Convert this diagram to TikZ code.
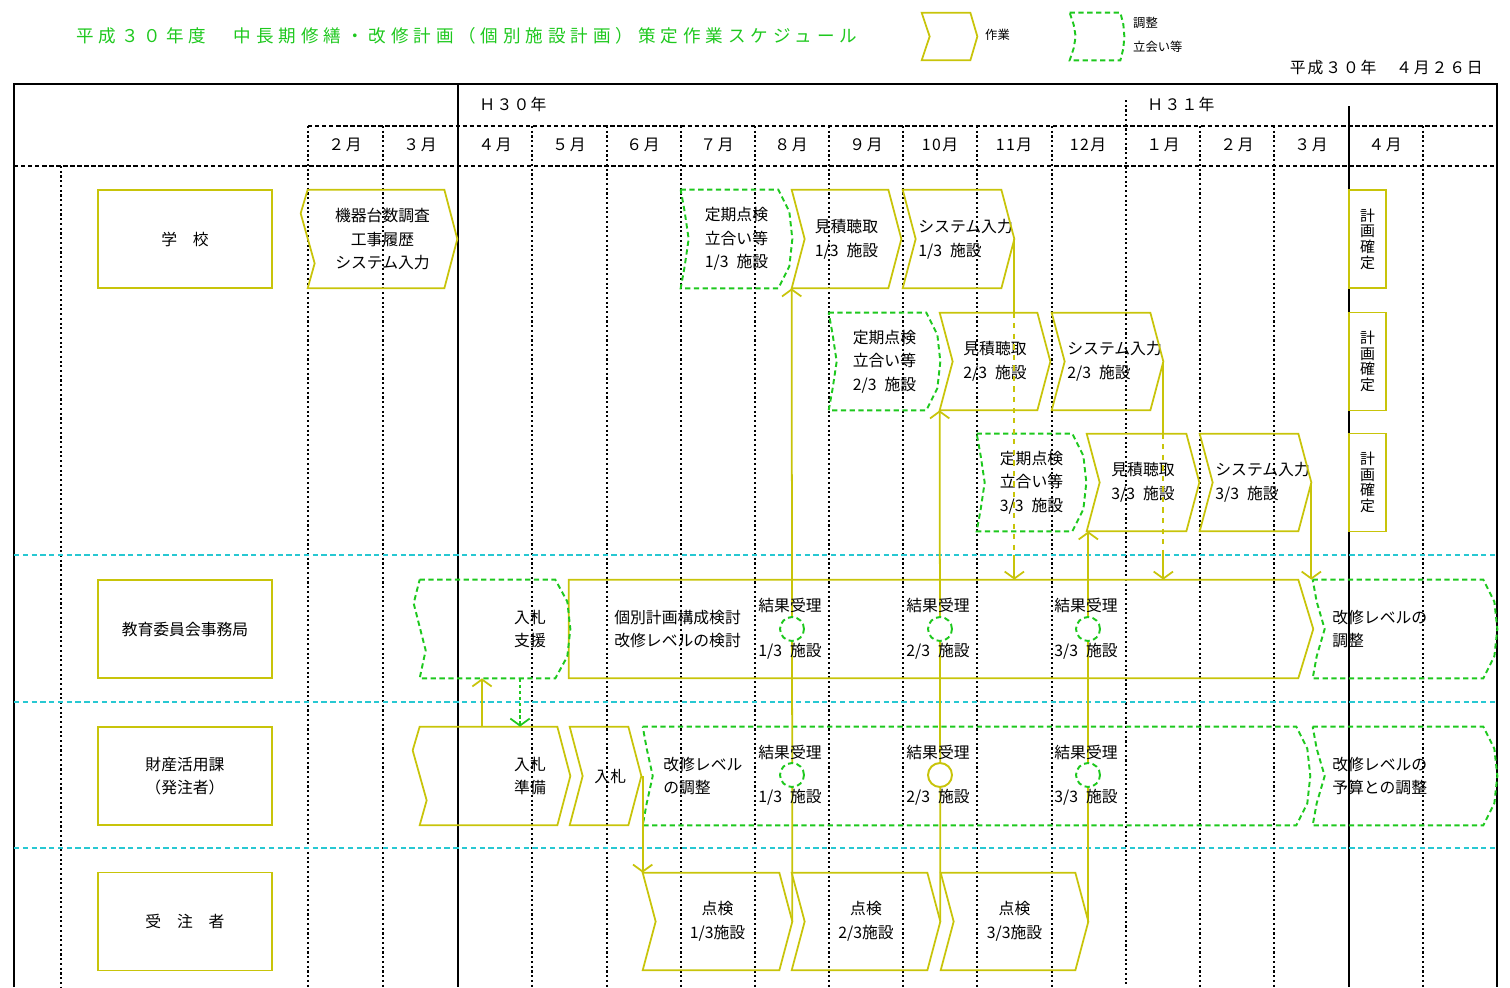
\documentclass[tikz,border=0pt]{standalone}
\usepackage{fontspec}
\setmainfont{Noto Sans CJK JP}
\usetikzlibrary{calc, arrows.meta}
\definecolor{workcolor}{RGB}{200,196,10}
\definecolor{adjcolor}{RGB}{30,200,30}
\definecolor{lanecolor}{RGB}{40,200,210}
\newcommand{\bodyfont}{\fontsize{9pt}{13.5pt}\selectfont}
\newcommand{\smallfont}{\fontsize{7pt}{8pt}\selectfont}
\newcommand{\titlefont}{\fontsize{10pt}{12pt}\selectfont\addfontfeatures{LetterSpace=28}}

\begin{document}
\begin{tikzpicture}[x=0.02cm, y=-0.02cm]
	\tikzstyle{cell}=[inner sep=0pt, align=left, font=\bodyfont]
	\tikzstyle{task}=[cell, minimum height=1.96cm]
	\tikzstyle{rowlabel}=[draw=workcolor, line width=1pt, inner sep=0pt, minimum width=3.48cm, minimum height=1.96cm, align=center, font=\bodyfont]
	\tikzstyle{workline}=[draw=workcolor, line width=1pt]
	\tikzstyle{adjline}=[draw=adjcolor, line width=1.1pt, dash pattern=on 3pt off 2pt]
	\tikzstyle{flowline}=[workcolor, line width=1pt, -{Straight Barb[length=4pt,width=11pt]}]
	\tikzstyle{gridline}=[line width=0.9pt, dash pattern=on 1.2pt off 1.5pt]
	\tikzstyle{headline}=[line width=0.7pt, dash pattern=on 2.5pt off 1.5pt]
	\tikzstyle{laneline}=[draw=lanecolor, line width=0.9pt, dash pattern=on 3pt off 2pt]
	\tikzstyle{check}=[circle, minimum size=0.48cm, inner sep=0pt, fill=white, adjline]

	\useasboundingbox (0,0) rectangle (1510,987);

	% title, legend, date
	\node[anchor=west, text=adjcolor, font=\titlefont] (title) at (70,36) {平成３０年度　中長期修繕・改修計画（個別施設計画）策定作業スケジュール};
	\node[inner sep=0pt, minimum width=1.1cm, minimum height=0.94cm] (legwork) at (949.5,36.5) {};
	\draw[workline] (legwork.north west) -- ($(legwork.north east)+(-7,0)$) -- (legwork.east) -- ($(legwork.south east)+(-7,0)$) -- (legwork.south west) -- ($(legwork.west)+(8,0)$) -- cycle;
	\node[anchor=west, font=\smallfont] (legworktext) at (979,35) {作業};
	\node[inner sep=0pt, minimum width=1.08cm, minimum height=0.94cm] (legadj) at (1097,36.5) {};
	\draw[adjline] (legadj.north west) -- ($(legadj.north east)+(-4,0)$) -- ($(legadj.north east)+(-1,12)$) -- (legadj.east) -- ($(legadj.south east)+(-1,-12)$) -- ($(legadj.south east)+(-4,0)$) -- (legadj.south west) -- ($(legadj.south west)+(4,-12)$) -- ($(legadj.west)+(6,0)$) -- ($(legadj.north west)+(4,12)$) -- cycle;
	\node[anchor=west, font=\smallfont] (legadjtext1) at (1127,23) {調整};
	\node[anchor=west, font=\smallfont] (legadjtext2) at (1127,47) {立会い等};
	\node[anchor=east, font=\bodyfont\addfontfeatures{LetterSpace=12}] (date) at (1489,68) {平成３０年　４月２６日};

	% frame and grid
	\draw[line width=1pt] (14,987) -- (14,84) -- (1497,84) -- (1497,987);
	\foreach \x in {308,383,532,607,681,755,829,903,977,1052,1200,1274,1423}{
		\draw[gridline] (\x,126) -- (\x,987);
	}
	\draw[gridline] (61,166) -- (61,987);
	\draw[gridline] (1126,100) -- (1126,987);
	\draw[line width=0.9pt] (458,84) -- (458,987);
	\draw[line width=0.9pt] (1349,106) -- (1349,987);
	\draw[headline] (308,126) -- (1497,126);
	\draw[headline] (14,166) -- (1497,166);
	\foreach \y in {555,702,848}{
		\draw[laneline] (14,\y) -- (1497,\y);
	}
	\coordinate (lane1) at (14,555);

	% header
	\node[font=\bodyfont\addfontfeatures{LetterSpace=8}] (h30) at (513,104) {Ｈ３０年};
	\node[font=\bodyfont\addfontfeatures{LetterSpace=8}] (h31) at (1181,104) {Ｈ３１年};
	\foreach \x/\m in {345/２月, 420/３月, 495/４月, 569/５月, 643/６月, 717/７月, 791/８月, 866/９月, 940/10月, 1014/11月, 1088/12月, 1163/１月, 1237/２月, 1311/３月, 1385/４月}{
		\node[font=\bodyfont\addfontfeatures{LetterSpace=10}] (m\x) at (\x,145) {\m};
	}

	% row labels
	\node[rowlabel] (gakko) at (185,239) {学　校};
	\node[rowlabel] (kyoiku) at (185,629) {教育委員会事務局};
	\node[rowlabel] (zaisan) at (185,776) {財産活用課\\（発注者）};
	\node[rowlabel] (jucyu) at (185,921.5) {受　注　者};

	% school
	\node[task, minimum width=2.98cm, align=center] (chk0) at (382.5,239) {機器台数調査\\工事履歴\\システム入力};
	\node[task, minimum width=2.22cm] (tei1) at (736.5,239) {定期点検\\立合い等\\1/3\enspace 施設};
	\node[task, minimum width=2.18cm] (mit1) at (846.5,239) {見積聴取\\1/3\enspace 施設};
	\node[task, minimum width=2.22cm] (sys1) at (958.5,239) {\hspace*{0.9em}システム入力\\\hspace*{0.9em}1/3\enspace 施設};
	\node[task, minimum width=2.22cm, minimum height=1.94cm] (tei2) at (884.5,361.5) {定期点検\\立合い等\\2/3\enspace 施設};
	\node[task, minimum width=2.20cm, minimum height=1.94cm] (mit2) at (995,361.5) {見積聴取\\2/3\enspace 施設};
	\node[task, minimum width=2.22cm, minimum height=1.94cm] (sys2) at (1107.5,361.5) {\hspace*{0.9em}システム入力\\\hspace*{0.9em}2/3\enspace 施設};
	\node[task, minimum width=2.18cm, minimum height=1.94cm] (tei3) at (1031.5,482.5) {定期点検\\立合い等\\3/3\enspace 施設};
	\node[task, minimum width=2.24cm, minimum height=1.94cm] (mit3) at (1143,482.5) {見積聴取\\3/3\enspace 施設};
	\node[task, minimum width=2.22cm, minimum height=1.94cm] (sys3) at (1255.5,482.5) {\hspace*{0.9em}システム入力\\\hspace*{0.9em}3/3\enspace 施設};
	\foreach \n/\y in {kak1/239, kak2/361.5, kak3/482.5}{
		\node[workline, inner sep=0pt, minimum width=0.74cm, minimum height=1.96cm, align=center, font=\fontsize{8.5pt}{8.9pt}\selectfont] (\n) at (1367.5,\y) {計\\画\\確\\定};
	}

	% board of education
	\node[task, minimum width=3.00cm] (shien) at (495,629) {};
	\node[cell, align=center] (shientext) at (530,629) {入札\\支援};
	\node[task, minimum width=14.88cm] (kento) at (941,629) {};
	\node[cell, anchor=west] (kentotext) at (614,629) {個別計画構成検討\\改修レベルの検討};
	\node[task, minimum width=3.68cm] (chosei) at (1405,629) {};
	\node[cell, anchor=west] (choseitext) at (1332,629) {改修レベルの\\調整};

	% asset division
	\node[task, minimum width=3.00cm] (junbi) at (495,776) {};
	\node[cell, align=center] (junbitext) at (530,776) {入札\\準備};
	\node[task, minimum width=1.42cm] (nyu) at (605.5,776) {\hspace*{0.6em}入札};
	\node[task, minimum width=13.34cm] (kaisyu) at (976.5,776) {};
	\node[cell, anchor=west] (kaisyutext) at (663,776) {改修レベル\\の調整};
	\node[task, minimum width=3.68cm] (yosan) at (1405,776) {};
	\node[cell, anchor=west] (yosantext) at (1332,776) {改修レベルの\\予算との調整};

	% contractor
	\node[task, minimum width=2.98cm, minimum height=1.94cm, align=center] (ten1) at (717.5,921.5) {点検\\1/3施設};
	\node[task, minimum width=2.96cm, minimum height=1.94cm, align=center] (ten2) at (866,921.5) {点検\\2/3施設};
	\node[task, minimum width=2.94cm, minimum height=1.94cm, align=center] (ten3) at (1014.5,921.5) {点検\\3/3施設};

	% outlines
	\foreach \n in {mit1,sys1,mit2,sys2,mit3,sys3,nyu,ten1,ten2,ten3}{
		\draw[workline] (\n.north west) -- ($(\n.north east)+(-13,0)$) -- (\n.east) -- ($(\n.south east)+(-13,0)$) -- (\n.south west) -- ($(\n.west)+(13,0)$) -- cycle;
	}
	\foreach \n in {chk0,junbi}{
		\draw[workline] (\n.north west) -- ($(\n.north east)+(-13,0)$) -- (\n.east) -- ($(\n.south east)+(-13,0)$) -- (\n.south west) -- ++(7,-25) -- ++(-14,-50) -- cycle;
	}
	\draw[workline] (kento.north west) -- ($(kento.north east)+(-15,0)$) -- (kento.east) -- ($(kento.south east)+(-15,0)$) -- (kento.south west) -- cycle;
	\foreach \n/\d in {tei1/8, tei2/8, tei3/8, kaisyu/10, chosei/12, yosan/12}{
		\draw[adjline] (\n.north west) -- ($(\n.north east)+(-14,0)$) -- ($(\n.north east)+(-3,22)$) -- (\n.east) -- ($(\n.south east)+(-3,-22)$) -- ($(\n.south east)+(-14,0)$) -- (\n.south west) -- ($(\n.south west)+(4,-22)$) -- ($(\n.west)+(\d,0)$) -- ($(\n.north west)+(4,22)$) -- cycle;
	}
	\draw[adjline] (shien.north west) -- ($(shien.north east)+(-15,0)$) -- ($(shien.north east)+(-3,22)$) -- (shien.east) -- ($(shien.south east)+(-3,-22)$) -- ($(shien.south east)+(-15,0)$) -- (shien.south west) -- ++(6,-28) -- ++(-12,-47) -- cycle;

	% connectors
	\draw[flowline] (ten1.east) -- (mit1.south west);
	\draw[flowline] (ten2.east) -- (mit2.south west);
	\draw[flowline] (ten3.east) -- (ten3.east |- mit3.south);
	\draw[workline] (sys1.east) -- (sys1.east |- mit2.north);
	\draw[workline, dashed] (sys1.east |- mit2.north) -- (sys1.east |- lane1);
	\draw[flowline] (sys1.east |- lane1) -- (sys1.east |- kento.north);
	\draw[workline] (sys2.east) -- (sys2.east |- mit3.north);
	\draw[workline, dashed] (sys2.east |- mit3.north) -- (sys2.east |- lane1);
	\draw[flowline] (sys2.east |- lane1) -- (sys2.east |- kento.north);
	\draw[flowline] (sys3.east) -- (sys3.east |- kento.north);
	\draw[flowline] ($(junbi.north)+(-13,0)$) -- ($(shien.south)+(-13,0)$);
	\draw[flowline, adjcolor, dash pattern=on 2pt off 1.5pt] ($(shien.south)+(25,0)$) -- ($(junbi.north)+(25,0)$);
	\draw[flowline] (nyu.east -| ten1.north west) -- (ten1.north west);

	% results
	\foreach \x/\k [count=\i] in {792/1, 940/2, 1088/3}{
		\node[cell] (ra\i) at (\x-2,605) {結果受理};
		\node[cell] (fa\i) at (\x-2,651) {\k/3\enspace 施設};
		\node[cell] (rb\i) at (\x-2,752) {結果受理};
		\node[cell] (fb\i) at (\x-2,797) {\k/3\enspace 施設};
		\node[check] (ca\i) at (\x,629) {};
	}
	\node[check] (cb1) at (792,775) {};
	\node[check, draw=workcolor, solid] (cb2) at (940,775) {};
	\node[check] (cb3) at (1088,775) {};
\end{tikzpicture}
\end{document}
